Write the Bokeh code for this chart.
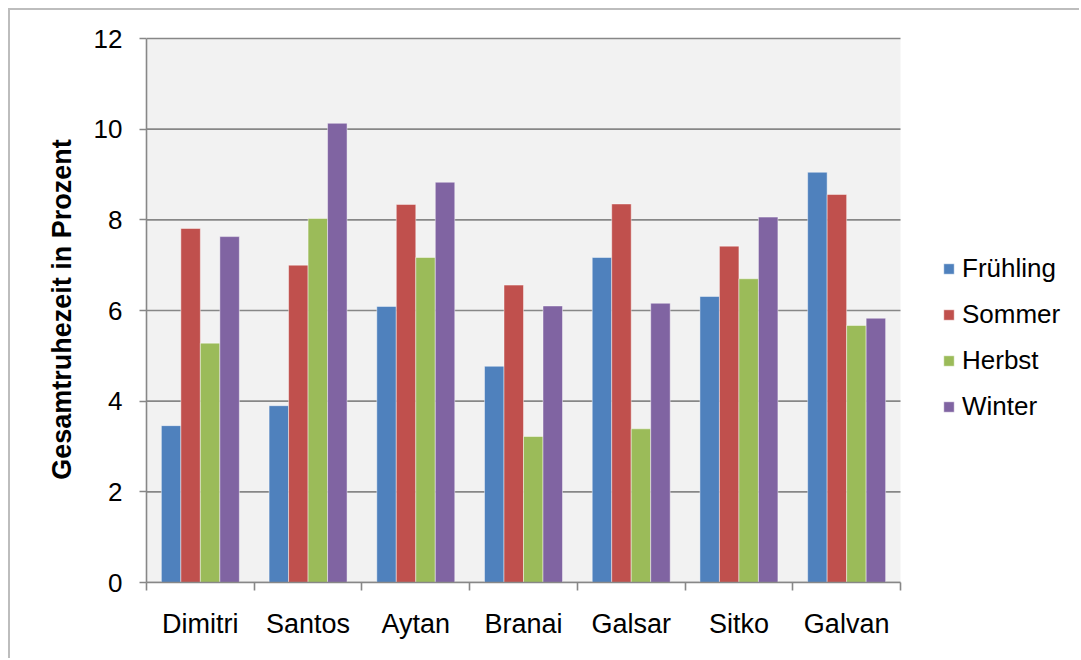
from bokeh.plotting import figure
from bokeh.models import (ColumnDataSource, Range1d, FixedTicker, Legend, LegendItem)
from bokeh.embed import file_html
from bokeh.resources import INLINE

categories = ["Dimitri", "Santos", "Aytan", "Branai", "Galsar", "Sitko", "Galvan"]
seasons = ["Frühling", "Sommer", "Herbst", "Winter"]
fruehling = [3.46, 3.90, 6.09, 4.77, 7.17, 6.31, 9.05]
sommer = [7.81, 7.00, 8.34, 6.56, 8.35, 7.42, 8.56]
herbst = [5.28, 8.03, 7.17, 3.22, 3.39, 6.70, 5.67]
winter = [7.63, 10.13, 8.83, 6.10, 6.16, 8.06, 5.83]
y_ticks = [0, 2, 4, 6, 8, 10, 12]
y_title = "Gesamtruhezeit in Prozent"

series = [fruehling, sommer, herbst, winter]
colors = ["#4F81BD", "#C0504D", "#9BBB59", "#8064A2"]
FONT = "Liberation Sans"
GRID = "#878787"

# layout in page pixels
off = 10                       # css offset of the canvas (margin + border)
area_l, area_r, area_t, area_b = 146, 900, 38, 582
frame_r = 1071
ncat = len(categories)
ymax = y_ticks[-1]
px_per_y = (area_b - area_t) / ymax
frame_t = area_t - 2
x_end = ncat * (frame_r - area_l) / (area_r - area_l)
y_end = ymax + (area_t - frame_t) / px_per_y

p = figure(width=1071, height=650, output_backend="svg", toolbar_location=None,
           x_range=Range1d(0, x_end), y_range=Range1d(0, y_end),
           min_border_left=area_l - off, min_border_top=frame_t - off,
           min_border_right=1081 - frame_r, min_border_bottom=660 - area_b,
           background_fill_color="white", border_fill_color="white",
           outline_line_color=None)
p.styles = {"margin-left": "8px", "margin-top": "8px",
            "border-left": "2px solid #BDBDBD", "border-top": "2px solid #BDBDBD"}

# plot area background and horizontal grid lines (limited to the category span)
p.quad(left=[0], right=[ncat], bottom=[y_ticks[0]], top=[ymax],
       fill_color="#F2F2F2", line_color=None)
p.segment(x0=[0] * len(y_ticks), x1=[ncat] * len(y_ticks), y0=y_ticks, y1=y_ticks,
          line_color=GRID, line_width=1.6)

bw = 0.181
items = []
for k, (name, vals, col) in enumerate(zip(seasons, series, colors)):
    o = (k - 1.5) * bw
    src = ColumnDataSource(dict(x=[i + 0.5 + o for i in range(ncat)], top=vals))
    r = p.vbar(x="x", top="top", bottom=0, width=bw, source=src, fill_color=col,
               line_color="white", line_alpha=0.45, line_width=1)
    items.append(LegendItem(label=name, renderers=[r]))

legend = Legend(items=items, location=(796, 160), orientation="vertical",
                label_text_font=FONT, label_text_font_size="26px", label_text_color="black",
                glyph_width=13, glyph_height=13, label_standoff=7, spacing=15,
                padding=0, margin=0, border_line_color=None, background_fill_alpha=0)
p.add_layout(legend, "center")

p.xgrid.visible = False
p.ygrid.visible = False

# y axis
p.yaxis.ticker = FixedTicker(ticks=y_ticks)
p.yaxis.bounds = (0, ymax)
p.yaxis.axis_line_color = GRID
p.yaxis.axis_line_width = 1.6
p.yaxis.major_tick_line_color = GRID
p.yaxis.major_tick_line_width = 1.6
p.yaxis.major_tick_out = 7
p.yaxis.major_tick_in = 0
p.yaxis.minor_tick_line_color = None
p.yaxis.major_label_standoff = 17
p.yaxis.major_label_text_font = FONT
p.yaxis.major_label_text_font_size = "26px"
p.yaxis.major_label_text_color = "black"
p.yaxis.axis_label = y_title
p.yaxis.axis_label_text_font = FONT
p.yaxis.axis_label_text_font_style = "bold"
p.yaxis.axis_label_text_font_size = "27px"
p.yaxis.axis_label_text_color = "black"
p.yaxis.axis_label_standoff = 14

# x axis: labels at category centres, tick marks at boundaries
p.xaxis.ticker = FixedTicker(ticks=[i + 0.5 for i in range(ncat)],
                             minor_ticks=list(range(ncat + 1)))
p.xaxis.bounds = (0, ncat)
p.xaxis.major_label_overrides = {i + 0.5: c for i, c in enumerate(categories)}
p.xaxis.axis_line_color = GRID
p.xaxis.axis_line_width = 1.6
p.xaxis.major_tick_line_color = None
p.xaxis.major_tick_out = 0
p.xaxis.major_tick_in = 0
p.xaxis.minor_tick_line_color = GRID
p.xaxis.minor_tick_line_width = 1.6
p.xaxis.minor_tick_out = 8
p.xaxis.minor_tick_in = 0
p.xaxis.major_label_standoff = 18
p.xaxis.major_label_text_font = FONT
p.xaxis.major_label_text_font_size = "27px"
p.xaxis.major_label_text_color = "black"

open("out.html", "w").write(file_html(p, INLINE))
